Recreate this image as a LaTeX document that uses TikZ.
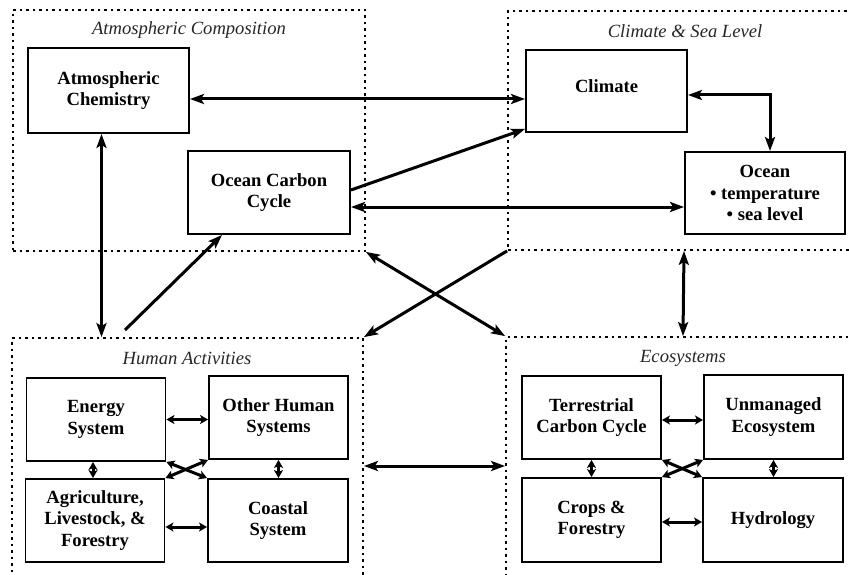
\documentclass[tikz,border=0pt]{standalone}
\usepackage{fontspec}
\setmainfont{Liberation Serif}
\usetikzlibrary{arrows.meta,calc}
\begin{document}
\begin{tikzpicture}[x=1pt,y=-1pt,
  box/.style={draw, line width=1.9pt, minimum width=139pt, minimum height=83pt, inner sep=0pt, align=center, font=\fontsize{18.6}{21.5}\selectfont\bfseries},
  bigbox/.style={box, minimum width=161pt, minimum height=83pt},
  grp/.style={draw, line width=1.8pt, dash pattern=on 2.5pt off 4pt, inner sep=0pt},
  glabel/.style={font=\fontsize{18.6}{21.5}\selectfont\itshape, text=black!85},
  big/.style={line width=3pt, -{Stealth[length=14pt,width=10pt,inset=3pt]}},
  bigd/.style={line width=3pt, {Stealth[length=14pt,width=10pt,inset=3pt]}-{Stealth[length=14pt,width=10pt,inset=3pt]}},
  sm/.style={line width=3pt, {Stealth[length=8pt,width=9pt,inset=2pt]}-{Stealth[length=8pt,width=9pt,inset=2pt]}},
]
\useasboundingbox (0,0) rectangle (849,575);
\clip (0,0) rectangle (849,575);

% groups
\node[grp, minimum width=352pt, minimum height=241pt] (atmgrp) at (189,130.5) {};
\node[grp, minimum width=352pt, minimum height=239pt] (climgrp) at (684,130.5) {};
\node[grp, minimum width=351pt, minimum height=256pt] (humgrp) at (187.5,466) {};
\node[grp, minimum width=354pt, minimum height=258pt] (ecogrp) at (683,466) {};

\node[glabel] (atmlab) at (189,30) {Atmospheric Composition};
\node[glabel] (climlab) at (685,31) {Climate \& Sea Level};
\node[glabel] (humlab) at (187,358) {Human Activities};
\node[glabel] (ecolab) at (683,358) {Ecosystems};

% top boxes
\node[bigbox, minimum height=85pt] (achem) at (108.5,90.5) {Atmospheric\\Chemistry};
\node[bigbox, minimum width=162pt] (occ) at (269,192.5) {Ocean Carbon\\Cycle};
\node[bigbox, minimum height=82pt, label={[font=\fontsize{18.6}{21.5}\selectfont\bfseries, yshift=5pt]center:Climate}] (climate) at (606.5,91) {};
\node[bigbox, minimum width=160pt, minimum height=82pt] (ocean) at (765,193) {Ocean\\\textbullet\ temperature\\\textbullet\ sea level};

% human activities
\node[box] (energy) at (96,419.5) {Energy\\System};
\node[box] (other) at (278.5,417.5) {Other Human\\Systems};
\node[box] (agri) at (95,520.5) {Agriculture,\\Livestock, \&\\Forestry};
\node[box, minimum width=140pt] (coastal) at (278,520.5) {Coastal\\System};

% ecosystems
\node[box] (terr) at (591.5,417.5) {Terrestrial\\Carbon Cycle};
\node[box, minimum height=84pt] (unman) at (773.5,417) {Unmanaged\\Ecosystem};
\node[box, minimum height=84pt] (crops) at (591.5,520) {Crops \&\\Forestry};
\node[box, minimum width=140pt, minimum height=84pt] (hydro) at (773,520) {Hydrology};

\coordinate (hstart) at (125,330);

% big connectors
\draw[bigd] ([yshift=-8.5pt]achem.east) -- ([yshift=-8pt]climate.west);
\draw[big] ([yshift=2.5pt]occ.east) -- ([yshift=4pt]climate.south west);
\draw[bigd] ([yshift=-14.5pt]occ.east) -- ([yshift=-14pt]ocean.west);
\draw[bigd] ([yshift=-4pt]climate.east) -| ([xshift=5pt]ocean.north);
\draw[bigd] ([xshift=-7pt]achem.south) -- ([xshift=-7pt]achem.south |- humgrp.north);
\draw[big] (hstart) -- ([xshift=-47pt]occ.south);
\draw[big] (climgrp.south west) -- (humgrp.north east);
\draw[bigd] (atmgrp.south east) -- (ecogrp.north west);
\draw[bigd] (climgrp.south) -- (ecogrp.north);
\draw[bigd] (humgrp.east) -- (ecogrp.west);

% human activities connectors
\draw[sm] (energy.east) -- (energy.east -| other.west);
\draw[sm] ([yshift=-6.5pt]agri.east) -- ([yshift=-6.5pt]agri.east -| coastal.west);
\draw[sm] ([xshift=-3pt]energy.south) -- ([xshift=-3pt]energy.south |- agri.north);
\draw[sm] (other.south) -- (other.south |- coastal.north);
\draw[sm] (energy.south east) -- (coastal.north west);
\draw[sm] (agri.north east) -- (other.south west);

% ecosystem connectors
\draw[sm] ([yshift=-2.5pt]terr.east) -- ([yshift=-2.5pt]terr.east -| unman.west);
\draw[sm] ([yshift=-2pt]crops.east) -- ([yshift=-2pt]crops.east -| hydro.west);
\draw[sm] (terr.south) -- (terr.south |- crops.north);
\draw[sm] (unman.south) -- (unman.south |- hydro.north);
\draw[sm] (terr.south east) -- (hydro.north west);
\draw[sm] (crops.north east) -- (unman.south west);
\end{tikzpicture}
\end{document}
